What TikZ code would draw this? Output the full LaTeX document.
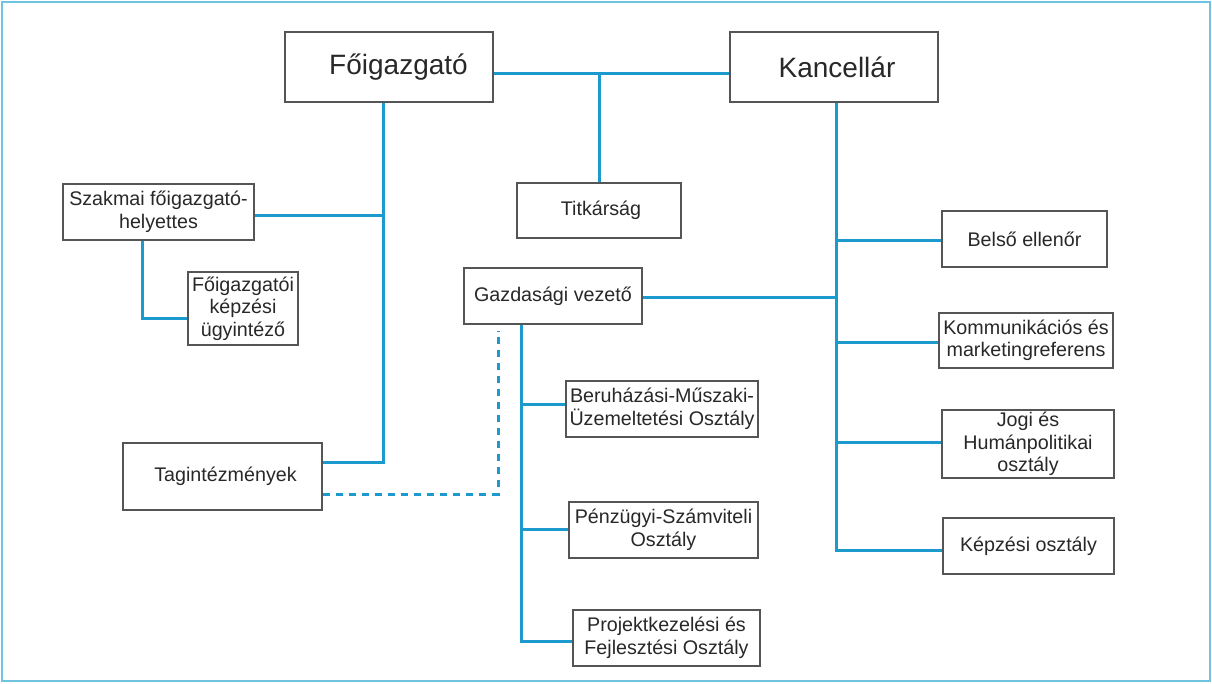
\documentclass[tikz,border=0pt]{standalone}
\usepackage{fontspec}
\setmainfont{Liberation Sans}
\definecolor{conncol}{RGB}{28,154,206}
\definecolor{framecol}{RGB}{110,195,225}
\definecolor{boxcol}{RGB}{85,85,85}
\definecolor{txtcol}{RGB}{40,40,40}
\tikzset{
  orgbox/.style={draw=boxcol, line width=1.3pt, fill=white, inner sep=0pt, align=center,
    text=txtcol, font=\fontsize{19.7}{22.5}\selectfont},
  bigbox/.style={orgbox, font=\fontsize{28}{30}\selectfont},
  conn/.style={draw=conncol, line width=3pt},
  dotconn/.style={draw=conncol, line width=3pt, dash pattern=on 7pt off 6pt},
  frameline/.style={draw=framecol, line width=2pt}
}
\begin{document}
\begin{tikzpicture}[x=1pt,y=-1pt]
\useasboundingbox (0,0) rectangle (1212,683);
\fill[white] (0,0) rectangle (1212,683);
\draw[frameline] (2,2) rectangle (1210,681);

% boxes
\node[bigbox, minimum width=208pt, minimum height=70pt] (fo) at (389,67) {\hspace*{19pt}Főigazgató};
\node[bigbox, minimum width=208pt, minimum height=70pt] (ka) at (834,67) {\hspace*{6pt}Kancellár};
\node[orgbox, minimum width=164pt, minimum height=55pt] (tit) at (599,210.5) {\hspace*{4pt}Titkárság};
\node[orgbox, minimum width=191pt, minimum height=56pt] (sz) at (158.5,212) {Szakmai főigazgató-\\helyettes};
\node[orgbox, minimum width=110pt, minimum height=73pt] (fk) at (243,308.5) {Főigazgatói\\képzési\\ügyintéző};
\node[orgbox, minimum width=199pt, minimum height=67pt] (tag) at (222.5,476.5) {\hspace*{6pt}Tagintézmények};
\node[orgbox, minimum width=178pt, minimum height=56pt] (gv) at (553,296) {Gazdasági vezető};
\node[orgbox, minimum width=192pt, minimum height=56pt] (be) at (662,409) {Beruházási-Műszaki-\\Üzemeltetési Osztály};
\node[orgbox, minimum width=189pt, minimum height=56pt] (pe) at (663.5,530) {Pénzügyi-Számviteli\\Osztály};
\node[orgbox, minimum width=187pt, minimum height=56pt] (pr) at (666.5,638) {Projektkezelési és\\Fejlesztési Osztály};
\node[orgbox, minimum width=165pt, minimum height=56pt] (bel) at (1024.5,239) {Belső ellenőr};
\node[orgbox, minimum width=174pt, minimum height=55pt] (kom) at (1026,340.5) {Kommunikációs és\\marketingreferens};
\node[orgbox, minimum width=172pt, minimum height=68pt] (jog) at (1028,444) {Jogi és\\Humánpolitikai\\osztály};
\node[orgbox, minimum width=171pt, minimum height=56pt] (kep) at (1028.5,546) {Képzési osztály};

% junction coordinates
\coordinate (t) at (599,73);
\coordinate (fv) at (383,462);
\coordinate (j1) at (383,215);
\coordinate (k1) at (142,318);
\coordinate (d1) at (498,494);
\coordinate (kv) at (836,550);
\coordinate (gj) at (836,297);
\coordinate (rb) at (836,240);
\coordinate (rk) at (836,342);
\coordinate (rj) at (836,442);
\coordinate (gv1) at (521,641);
\coordinate (gb) at (521,404);
\coordinate (gp) at (521,529);

% connectors
\draw[conn] (t -| fo.east) -- (t -| ka.west);
\draw[conn] (t) -- (tit.north -| t);
\draw[conn] (fo.south -| fv) -- (fv) -- (fv -| tag.east);
\draw[conn] (j1 -| sz.east) -- (j1);
\draw[conn] (sz.south -| k1) -- (k1) -- (k1 -| fk.west);
\draw[dotconn] (d1 -| tag.east) -- (d1) -- ([yshift=-6pt]gv.south -| d1);
\draw[conn] (ka.south -| kv) -- (kv) -- (kv -| kep.west);
\draw[conn] (gv.east |- gj) -- (gj);
\draw[conn] (rb) -- (rb -| bel.west);
\draw[conn] (rk) -- (rk -| kom.west);
\draw[conn] (rj) -- (rj -| jog.west);
\draw[conn] (gv.south -| gv1) -- (gv1) -- (gv1 -| pr.west);
\draw[conn] (gb) -- (gb -| be.west);
\draw[conn] (gp) -- (gp -| pe.west);
\end{tikzpicture}
\end{document}
